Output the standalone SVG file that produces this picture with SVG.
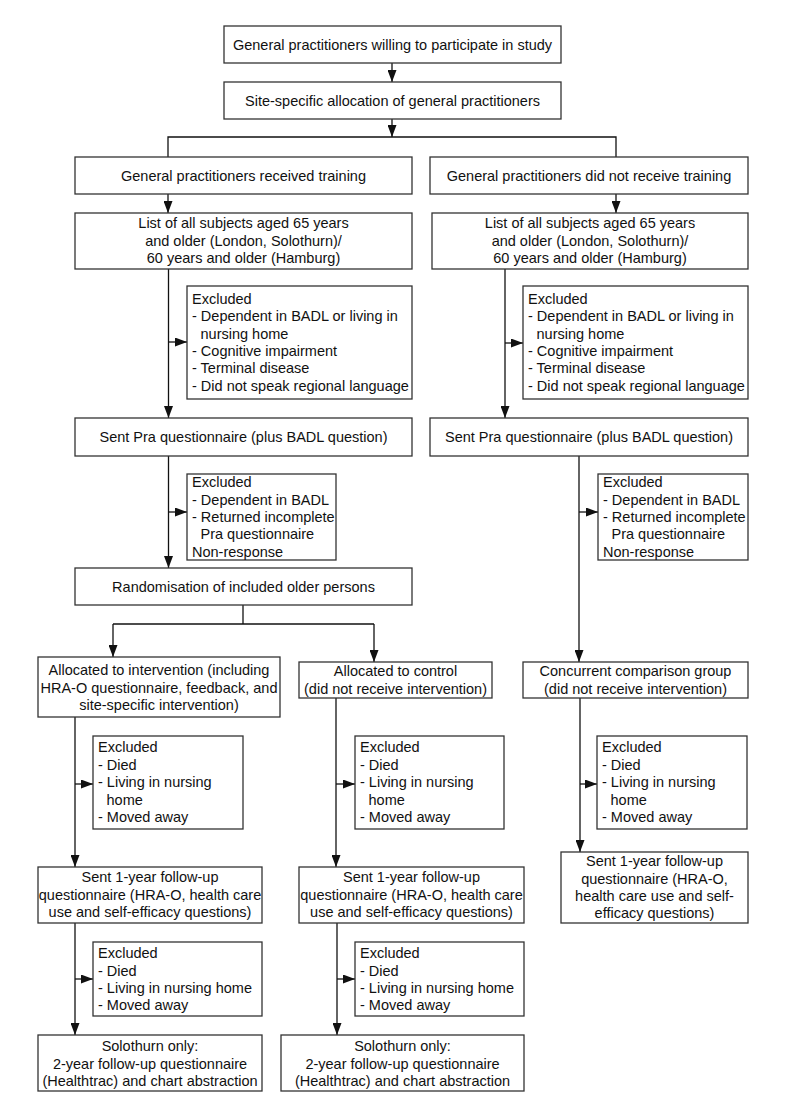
<svg xmlns="http://www.w3.org/2000/svg" width="785" height="1110" viewBox="0 0 785 1110">
<style>
  .box { fill: #ffffff; stroke: #333333; stroke-width: 1.3; }
  .t { font-family: "Liberation Sans", Arial, sans-serif; font-size: 14.5px; fill: #111111; }
  .c { text-anchor: middle; }
  .ln { fill: none; stroke: #111111; stroke-width: 1.3; }
  .ar { fill: none; stroke: #111111; stroke-width: 1.3; marker-end: url(#arrow); }
</style>
<defs>
  <marker id="arrow" markerUnits="userSpaceOnUse" markerWidth="12" markerHeight="9" refX="12" refY="4.5" orient="auto">
    <path d="M0,0 L12,4.5 L0,9 Z" fill="#111111"/>
  </marker>
</defs>
<rect width="785" height="1110" fill="#ffffff"/>

<g id="connectors">
  <line class="ar" x1="392" y1="63" x2="392" y2="82"/>
  <line class="ar" x1="392" y1="119" x2="392" y2="137"/>
  <polyline class="ln" points="168,157 168,137 616,137 616,157"/>
  <line class="ar" x1="168" y1="194" x2="168" y2="213"/>
  <line class="ar" x1="616" y1="194" x2="616" y2="213"/>
  <line class="ar" x1="168.5" y1="269" x2="168.5" y2="418"/>
  <line class="ar" x1="168.5" y1="342" x2="187" y2="342"/>
  <line class="ar" x1="505" y1="269" x2="505" y2="418"/>
  <line class="ar" x1="505" y1="343" x2="523" y2="343"/>
  <line class="ar" x1="168.5" y1="456" x2="168.5" y2="568"/>
  <line class="ar" x1="168.5" y1="512" x2="187" y2="512"/>
  <line class="ar" x1="579" y1="456" x2="579" y2="662"/>
  <line class="ar" x1="579" y1="512" x2="598" y2="512"/>
  <polyline class="ln" points="243,605 243,624"/>
  <polyline class="ln" points="113,624 374,624"/>
  <line class="ar" x1="113" y1="624" x2="113" y2="657"/>
  <line class="ar" x1="374" y1="624" x2="374" y2="662"/>
  <line class="ar" x1="75" y1="717" x2="75" y2="867"/>
  <line class="ar" x1="75" y1="784" x2="93" y2="784"/>
  <line class="ar" x1="336" y1="698" x2="336" y2="867"/>
  <line class="ar" x1="336" y1="784" x2="355" y2="784"/>
  <line class="ar" x1="580" y1="698" x2="580" y2="852"/>
  <line class="ar" x1="580" y1="784" x2="597" y2="784"/>
  <line class="ar" x1="75" y1="923" x2="75" y2="1035"/>
  <line class="ar" x1="75" y1="979" x2="93" y2="979"/>
  <line class="ar" x1="337" y1="923" x2="337" y2="1035"/>
  <line class="ar" x1="337" y1="979" x2="355" y2="979"/>
</g>

<g id="n-willing">
  <rect class="box" x="224" y="26" width="337" height="37"/>
  <text class="t c" x="392.5" y="50">General practitioners willing to participate in study</text>
</g>
<g id="n-allocation-gp">
  <rect class="box" x="224" y="82" width="337" height="37"/>
  <text class="t c" x="392.5" y="105.5">Site-specific allocation of general practitioners</text>
</g>
<g id="n-trained">
  <rect class="box" x="75" y="157" width="337" height="37"/>
  <text class="t c" x="243.5" y="180.5">General practitioners received training</text>
</g>
<g id="n-untrained">
  <rect class="box" x="430" y="157" width="318" height="37"/>
  <text class="t c" x="589" y="180.5">General practitioners did not receive training</text>
</g>
<g id="n-list-left">
  <rect class="box" x="75" y="213" width="337" height="56"/>
  <text class="t c" x="243.5" y="228">List of all subjects aged 65 years</text>
  <text class="t c" x="243.5" y="245.5">and older (London, Solothurn)/</text>
  <text class="t c" x="243.5" y="263">60 years and older (Hamburg)</text>
</g>
<g id="n-list-right">
  <rect class="box" x="432" y="213" width="316" height="56"/>
  <text class="t c" x="590" y="228">List of all subjects aged 65 years</text>
  <text class="t c" x="590" y="245.5">and older (London, Solothurn)/</text>
  <text class="t c" x="590" y="263">60 years and older (Hamburg)</text>
</g>
<g id="n-excl1-left">
  <rect class="box" x="187" y="286" width="225" height="113"/>
  <text class="t" x="192" y="304">Excluded</text>
  <text class="t" x="192" y="321.3">- Dependent in BADL or living in</text>
  <text class="t" x="200.5" y="338.6">nursing home</text>
  <text class="t" x="192" y="355.9">- Cognitive impairment</text>
  <text class="t" x="192" y="373.2">- Terminal disease</text>
  <text class="t" x="192" y="390.5">- Did not speak regional language</text>
</g>
<g id="n-excl1-right">
  <rect class="box" x="523" y="286" width="225" height="113"/>
  <text class="t" x="528" y="304">Excluded</text>
  <text class="t" x="528" y="321.3">- Dependent in BADL or living in</text>
  <text class="t" x="536.5" y="338.6">nursing home</text>
  <text class="t" x="528" y="355.9">- Cognitive impairment</text>
  <text class="t" x="528" y="373.2">- Terminal disease</text>
  <text class="t" x="528" y="390.5">- Did not speak regional language</text>
</g>
<g id="n-pra-left">
  <rect class="box" x="75" y="418" width="337" height="38"/>
  <text class="t c" x="243.5" y="442">Sent Pra questionnaire (plus BADL question)</text>
</g>
<g id="n-pra-right">
  <rect class="box" x="430" y="418" width="318" height="38"/>
  <text class="t c" x="589" y="442">Sent Pra questionnaire (plus BADL question)</text>
</g>
<g id="n-excl2-left">
  <rect class="box" x="187" y="474" width="149" height="86"/>
  <text class="t" x="192" y="487">Excluded</text>
  <text class="t" x="192" y="504.5">- Dependent in BADL</text>
  <text class="t" x="192" y="522">- Returned incomplete</text>
  <text class="t" x="200.5" y="539">Pra questionnaire</text>
  <text class="t" x="192" y="557">Non-response</text>
</g>
<g id="n-excl2-right">
  <rect class="box" x="598" y="474" width="150" height="86"/>
  <text class="t" x="603" y="487">Excluded</text>
  <text class="t" x="603" y="504.5">- Dependent in BADL</text>
  <text class="t" x="603" y="522">- Returned incomplete</text>
  <text class="t" x="611.5" y="539">Pra questionnaire</text>
  <text class="t" x="603" y="557">Non-response</text>
</g>
<g id="n-randomisation">
  <rect class="box" x="75" y="568" width="337" height="37"/>
  <text class="t c" x="243.5" y="591.5">Randomisation of included older persons</text>
</g>
<g id="n-intervention">
  <rect class="box" x="38" y="657" width="242" height="60"/>
  <text class="t c" x="159" y="675">Allocated to intervention (including</text>
  <text class="t c" x="159" y="692.5">HRA-O questionnaire, feedback, and</text>
  <text class="t c" x="159" y="710">site-specific intervention)</text>
</g>
<g id="n-control">
  <rect class="box" x="299" y="662" width="193" height="36"/>
  <text class="t c" x="395.5" y="676">Allocated to control</text>
  <text class="t c" x="395.5" y="693.5">(did not receive intervention)</text>
</g>
<g id="n-comparison">
  <rect class="box" x="523" y="662" width="225" height="36"/>
  <text class="t c" x="635.5" y="676">Concurrent comparison group</text>
  <text class="t c" x="635.5" y="693.5">(did not receive intervention)</text>
</g>
<g id="n-excl3-intervention">
  <rect class="box" x="93" y="736" width="150" height="93"/>
  <text class="t" x="98" y="752">Excluded</text>
  <text class="t" x="98" y="769.5">- Died</text>
  <text class="t" x="98" y="787">- Living in nursing</text>
  <text class="t" x="106.5" y="804.5">home</text>
  <text class="t" x="98" y="822">- Moved away</text>
</g>
<g id="n-excl3-control">
  <rect class="box" x="355" y="736" width="149" height="93"/>
  <text class="t" x="360" y="752">Excluded</text>
  <text class="t" x="360" y="769.5">- Died</text>
  <text class="t" x="360" y="787">- Living in nursing</text>
  <text class="t" x="368.5" y="804.5">home</text>
  <text class="t" x="360" y="822">- Moved away</text>
</g>
<g id="n-excl3-comparison">
  <rect class="box" x="597" y="736" width="150" height="93"/>
  <text class="t" x="602" y="752">Excluded</text>
  <text class="t" x="602" y="769.5">- Died</text>
  <text class="t" x="602" y="787">- Living in nursing</text>
  <text class="t" x="610.5" y="804.5">home</text>
  <text class="t" x="602" y="822">- Moved away</text>
</g>
<g id="n-followup1-intervention">
  <rect class="box" x="38" y="867" width="224" height="56"/>
  <text class="t c" x="150" y="882">Sent 1-year follow-up</text>
  <text class="t c" x="150" y="899.5">questionnaire (HRA-O, health care</text>
  <text class="t c" x="150" y="917">use and self-efficacy questions)</text>
</g>
<g id="n-followup1-control">
  <rect class="box" x="299" y="867" width="225" height="56"/>
  <text class="t c" x="411.5" y="882">Sent 1-year follow-up</text>
  <text class="t c" x="411.5" y="899.5">questionnaire (HRA-O, health care</text>
  <text class="t c" x="411.5" y="917">use and self-efficacy questions)</text>
</g>
<g id="n-followup1-comparison">
  <rect class="box" x="561" y="852" width="187" height="71"/>
  <text class="t c" x="654.5" y="866">Sent 1-year follow-up</text>
  <text class="t c" x="654.5" y="883.5">questionnaire (HRA-O,</text>
  <text class="t c" x="654.5" y="901">health care use and self-</text>
  <text class="t c" x="654.5" y="918">efficacy questions)</text>
</g>
<g id="n-excl4-intervention">
  <rect class="box" x="93" y="942" width="169" height="74"/>
  <text class="t" x="98" y="958">Excluded</text>
  <text class="t" x="98" y="975.5">- Died</text>
  <text class="t" x="98" y="993">- Living in nursing home</text>
  <text class="t" x="98" y="1010">- Moved away</text>
</g>
<g id="n-excl4-control">
  <rect class="box" x="355" y="942" width="169" height="74"/>
  <text class="t" x="360" y="958">Excluded</text>
  <text class="t" x="360" y="975.5">- Died</text>
  <text class="t" x="360" y="993">- Living in nursing home</text>
  <text class="t" x="360" y="1010">- Moved away</text>
</g>
<g id="n-followup2-intervention">
  <rect class="box" x="38" y="1035" width="224" height="56"/>
  <text class="t c" x="150" y="1051">Solothurn only:</text>
  <text class="t c" x="150" y="1068.5">2-year follow-up questionnaire</text>
  <text class="t c" x="150" y="1086">(Healthtrac) and chart abstraction</text>
</g>
<g id="n-followup2-control">
  <rect class="box" x="281" y="1035" width="243" height="56"/>
  <text class="t c" x="402.5" y="1051">Solothurn only:</text>
  <text class="t c" x="402.5" y="1068.5">2-year follow-up questionnaire</text>
  <text class="t c" x="402.5" y="1086">(Healthtrac) and chart abstraction</text>
</g>
</svg>
